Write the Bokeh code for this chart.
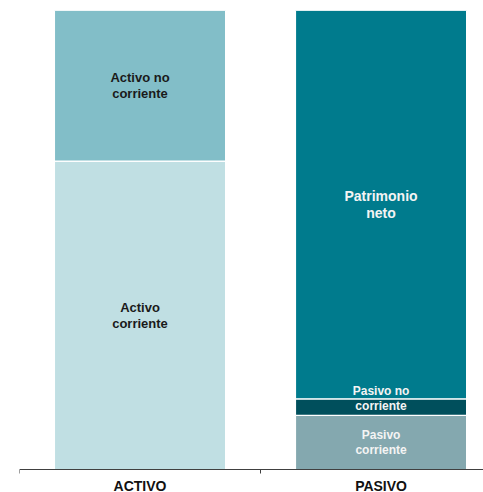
from bokeh.plotting import figure
from bokeh.models import ColumnDataSource, Range1d, FixedTicker, LinearAxis
from bokeh.core.properties import value
from bokeh.embed import file_html
from bokeh.resources import INLINE

# ---- data (percent of total balance) ----
categories = ["ACTIVO", "PASIVO"]
activo_labels = ["Activo\ncorriente", "Activo no\ncorriente"]
activo_values = [67.2, 32.8]
activo_colors = ["#C0DFE3", "#82BEC8"]
pasivo_labels = ["Pasivo\ncorriente", "Pasivo no\ncorriente", "Patrimonio\nneto"]
pasivo_values = [11.8, 3.6, 84.6]
pasivo_colors = ["#84A8AF", "#004F5C", "#007B8D"]

# frame spans the whole height below the top margin; the baseline sits 23px above the bottom
W, H, TOP, AXIS_SPACE = 483, 492, 10, 23
bar_px = H - TOP - AXIS_SPACE
y_start = -100.0 * AXIS_SPACE / bar_px

p = figure(width=W, height=H, output_backend="svg", toolbar_location=None,
           x_range=Range1d(0, 1.925), y_range=Range1d(y_start, 100),
           x_axis_location=None, y_axis_location=None,
           min_border_left=19, min_border_right=0,
           min_border_top=TOP, min_border_bottom=0)
p.outline_line_color = None
p.background_fill_color = "white"
p.border_fill_color = "white"
for g in p.grid:
    g.visible = False

bar_w = 0.71
font = value("Liberation Sans")

def stack(xc, vals, cols, labels, txtcol, sizes, label_mode):
    bottoms, tops = [], []
    acc = 0.0
    for v in vals:
        bottoms.append(acc)
        acc += v
        tops.append(acc)
    src = ColumnDataSource(dict(x=[xc] * len(vals), bottom=bottoms, top=tops, color=cols))
    p.vbar(x="x", width=bar_w, bottom="bottom", top="top", fill_color="color",
           line_color="white", line_width=1.2, source=src)
    ys = []
    for b, t, m in zip(bottoms, tops, label_mode):
        ys.append(t if m == "top" else (b + t) / 2)
    tsrc = ColumnDataSource(dict(x=[xc] * len(vals), y=ys, text=labels, size=sizes))
    p.text(x="x", y="y", text="text", source=tsrc, text_align="center",
           text_baseline="middle", text_font=font, text_font_style="bold",
           text_font_size="size", text_color=txtcol, text_line_height=1.05)

stack(0.5, activo_values, activo_colors, activo_labels, "#1A1A1A",
      ["13px", "13px"], ["mid", "mid"])
stack(1.5, pasivo_values, pasivo_colors, pasivo_labels, "#F4F4F4",
      ["12px", "12px", "14px"], ["mid", "top", "mid"])

ax = LinearAxis(fixed_location=0)
ax.ticker = FixedTicker(ticks=[0.5, 1.5], minor_ticks=[0, 1, 2])
ax.major_label_overrides = {0.5: categories[0], 1.5: categories[1]}
ax.major_tick_line_color = None
ax.major_tick_out = 0
ax.major_tick_in = 0
ax.minor_tick_out = 4
ax.minor_tick_in = 0
ax.minor_tick_line_color = "#404040"
ax.axis_line_color = "#404040"
ax.axis_line_width = 1
ax.major_label_standoff = 4
ax.major_label_text_font = "Liberation Sans"
ax.major_label_text_font_style = "bold"
ax.major_label_text_font_size = "14px"
ax.major_label_text_color = "#111111"
p.add_layout(ax, "below")

open("out.html", "w").write(file_html(p, INLINE))
